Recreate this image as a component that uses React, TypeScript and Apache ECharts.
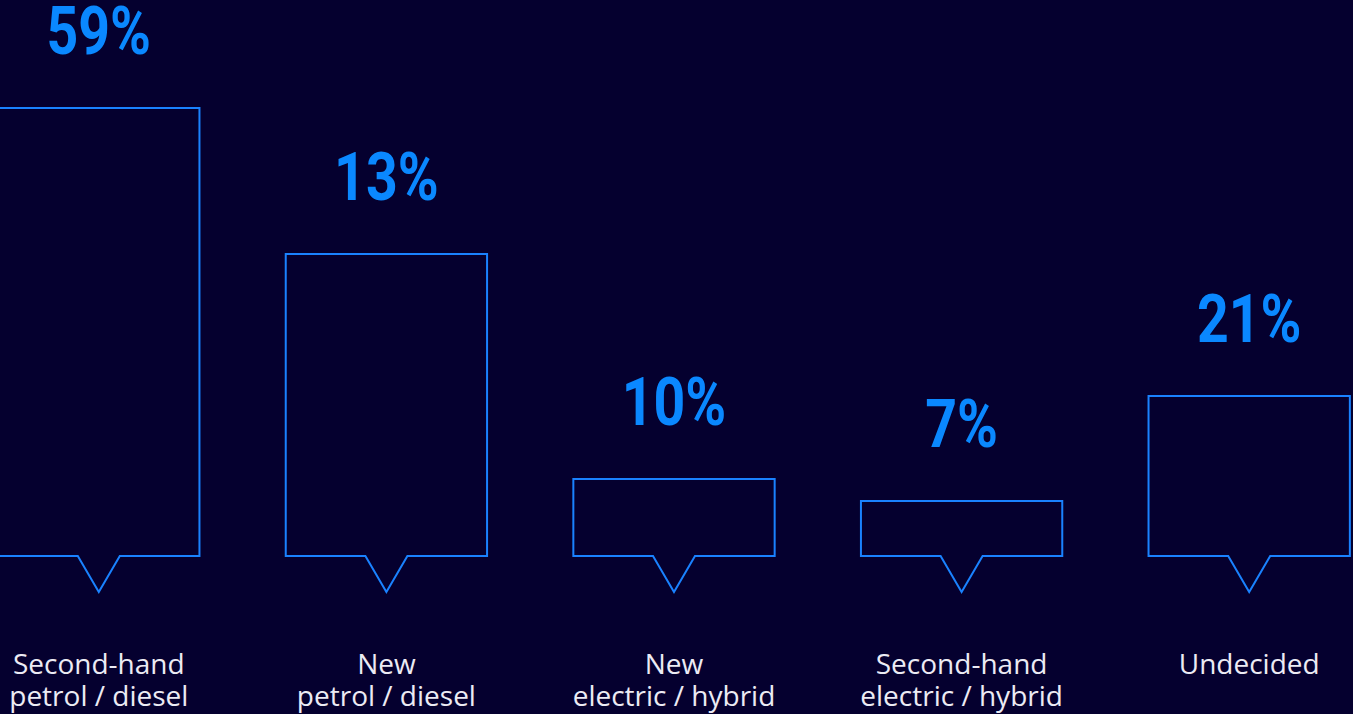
import React, { useEffect, useRef } from "react";
import * as echarts from "echarts";

const categories = [
  "Second-hand\npetrol / diesel",
  "New\npetrol / diesel",
  "New\nelectric / hybrid",
  "Second-hand\nelectric / hybrid",
  "Undecided",
];
const percentLabels = [59, 13, 10, 7, 21];
// drawn heights of the bubbles as they appear in the infographic (not proportional to the percentages)
const barHeights = [448, 302, 77, 55, 160];

const BG = "#05002f";
const BLUE = "#1a82ff";
const LABEL_BLUE = "#0a88ff";

export default function App() {
  const ref = useRef<HTMLDivElement>(null);
  useEffect(() => {
    document.body.style.margin = "0";
    document.body.style.overflow = "hidden";
    document.body.style.background = BG;
    const chart = echarts.init(ref.current!, null, { renderer: "svg" });
    const data = barHeights.map((h, i) => [i, h, percentLabels[i]]);
    chart.setOption({
      animation: false,
      backgroundColor: BG,
      grid: { left: 0, right: 0, top: 0, bottom: 158 },
      xAxis: {
        type: "category",
        data: categories,
        axisLine: { show: false },
        axisTick: { show: false },
        axisLabel: {
          color: "#ecebf4",
          fontFamily: "Open Sans",
          fontSize: 28,
          lineHeight: 32,
          margin: 91,
          interval: 0,
        },
      },
      yAxis: {
        type: "value",
        min: 0,
        max: 556,
        show: false,
        splitLine: { show: false },
      },
      series: [
        {
          type: "custom",
          data,
          renderItem: (params: any, api: any) => {
            const idx = api.value(0);
            const h = api.value(1);
            const pct = api.value(2);
            const top = api.coord([idx, h]);
            const base = api.coord([idx, 0]);
            const band = api.size([1, 0])[0];
            const w = band * 0.7;
            const cx = base[0];
            const x0 = cx - w / 2;
            const x1 = cx + w / 2;
            const yT = top[1];
            const yB = base[1];
            const pw = 21;
            const pd = 36;
            return {
              type: "group",
              children: [
                {
                  type: "polygon",
                  shape: {
                    points: [
                      [x0, yT],
                      [x1, yT],
                      [x1, yB],
                      [cx + pw, yB],
                      [cx, yB + pd],
                      [cx - pw, yB],
                      [x0, yB],
                    ],
                  },
                  style: { fill: "none", stroke: BLUE, lineWidth: 2 },
                },
                {
                  type: "text",
                  x: cx,
                  y: yT - 76.5,
                  scaleX: 0.84,
                  style: {
                    text: pct + "%",
                    fill: LABEL_BLUE,
                    fontFamily: "Roboto",
                    fontWeight: "bold",
                    fontSize: 66,
                    lineHeight: 50,
                    align: "center",
                    verticalAlign: "middle",
                  },
                },
              ],
            };
          },
        },
      ],
    });
    return () => chart.dispose();
  }, []);
  return (
    <div style={{ position: "relative", width: 1353, height: 714, overflow: "hidden", background: BG }}>
      <div ref={ref} style={{ position: "absolute", left: -45, top: 0, width: 1438, height: 714 }} />
    </div>
  );
}
